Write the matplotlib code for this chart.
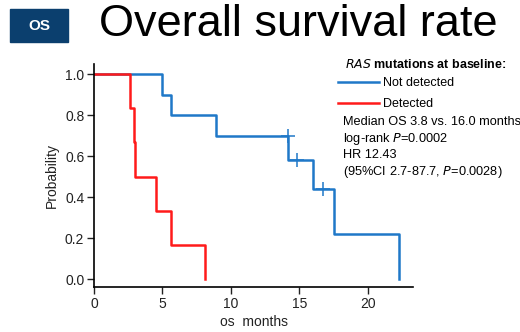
import matplotlib.pyplot as plt
from matplotlib.patches import Rectangle

plt.rcParams['font.family'] = ['Liberation Sans', 'DejaVu Sans']

# Kaplan-Meier steps (months, survival)
not_det_t = [0, 5.0, 5.6, 8.9, 14.2, 16.0, 17.5, 22.3]
not_det_s = [1.0, 0.9, 0.8, 0.7, 0.583, 0.4375, 0.219, 0.0]
not_det_cens_t = [14.2, 14.8, 16.7]
not_det_cens_s = [0.7, 0.583, 0.4375]

det_t = [0, 2.6, 2.9, 3.0, 4.5, 5.6, 8.1]
det_s = [1.0, 0.833, 0.667, 0.5, 0.333, 0.167, 0.0]

x_ticks = [0, 5, 10, 15, 20]
y_ticks = [0.0, 0.2, 0.4, 0.6, 0.8, 1.0]

stats_lines = [
    'Median OS 3.8 vs. 16.0 months',
    'log-rank $\\it{P}$=0.0002',
    'HR 12.43',
    '(95%CI 2.7-87.7, $\\it{P}$=0.0028)',
]

BLUE = '#1F78C8'
RED = '#FF1A1A'
W, H = 520, 332


def fx(px):
    return px / W


def fy(py):
    return 1 - py / H


fig = plt.figure(figsize=(5.2, 3.32), dpi=100)
ax = fig.add_axes([fx(94), fy(287), fx(413) - fx(94), fy(64) - fy(287)])

ax.step(not_det_t, not_det_s, where='post', color=BLUE, lw=1.8, label='Not detected')
ax.plot(not_det_cens_t, not_det_cens_s, ls='none', marker='+', ms=10, mew=1.1, color=BLUE)
ax.step(det_t, det_s, where='post', color=RED, lw=1.8, label='Detected')

ax.set_xlim(0, 23.3)
ax.set_ylim(-0.039, 1.049)
ax.set_xticks(x_ticks)
ax.set_yticks(y_ticks)
ax.set_yticklabels([f'{v:.1f}' for v in y_ticks])
ax.tick_params(direction='out', length=5, width=1, labelsize=10, colors='#222222', pad=2)
for side in ['top', 'right']:
    ax.spines[side].set_visible(False)
for side in ['left', 'bottom']:
    ax.spines[side].set_linewidth(1.2)
ax.set_xlabel('os  months', fontsize=10, color='#222222', labelpad=3)
ax.set_ylabel('Probability', fontsize=10, color='#222222', labelpad=4)

# header badge and title
fig.patches.append(Rectangle((fx(10), fy(42)), fx(68) - fx(10), fy(9) - fy(42),
                             transform=fig.transFigure, color='#0B3F6E', zorder=0))
fig.text(fx(39), fy(26), 'OS', color='white', fontsize=11, fontweight='bold',
         ha='center', va='center')
fig.text(fx(99), fy(25), 'Overall survival rate', fontsize=32.5, ha='left', va='center')

# legend block
fig.text(fx(345), fy(65), '$\\bf{\\it{RAS}}$ mutations at baseline:', fontsize=9,
         fontweight='bold', ha='left', va='center')
ax.legend(loc='upper left', bbox_to_anchor=(fx(338), fy(77)), bbox_transform=fig.transFigure,
          frameon=False, fontsize=9, handlelength=3.3, handletextpad=0.3,
          labelspacing=0.75, borderpad=0, borderaxespad=0)

for i, line in enumerate(stats_lines):
    fig.text(fx(343), fy(122 + i * 16.5), line, fontsize=9.2, ha='left', va='center')

fig.savefig('out.png', dpi=100)
